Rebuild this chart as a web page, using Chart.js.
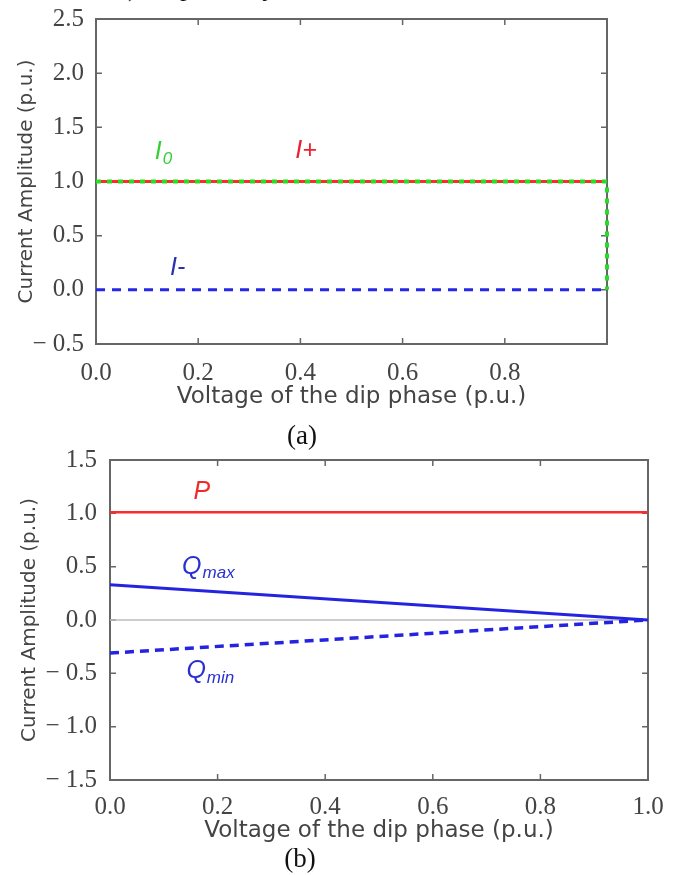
<!DOCTYPE html>
<html>
<head>
<meta charset="utf-8">
<script src="https://cdn.jsdelivr.net/npm/chart.js@4"></script>
<style>
  body { margin: 0; background: #fff; width: 686px; height: 875px; position: relative; overflow: hidden; font-family: "Liberation Serif", serif; }
  canvas { position: absolute; left: 0; }
  #chartA { top: 0; }
  #chartB { top: 440px; }
  .cap { position: absolute; font-size: 27px; color: #111; transform: translate(-50%, -50%); }
  .frag { position: absolute; top: -27px; left: 128px; font-size: 26px; white-space: pre; color: #111; }
</style>
</head>
<body>
<div class="frag">), respectively</div>
<canvas id="chartA" width="686" height="411"></canvas>
<canvas id="chartB" width="686" height="405"></canvas>
<div class="cap" style="left:302px;top:435px">(a)</div>
<div class="cap" style="left:300px;top:858px">(b)</div>
<script>
// (a) currents vs dip voltage
const xA = [0, 1];
const iPlus = [1, 1];
const xZero = [0, 1, 1];
const iZero = [1, 1, 0];
const iMinus = [0, 0];
const yTicksA = [-0.5, 2.5];

// (b) powers vs dip voltage
const xB = [0, 1];
const pVals = [1.01, 1.01];
const qMax = [0.33, 0];
const qMin = [-0.31, 0];
const zeroLine = [0, 0];
const yTicksB = [-1.5, 1.5];

const pts = (xs, ys) => xs.map((x, i) => ({ x: x, y: ys[i] }));

function fmt(v) {
  const s = Math.abs(v).toFixed(1);
  return v < 0 ? "\u2212 " + s : s;
}

// box, inward ticks and in-plot labels
const frame = {
  id: "frame",
  beforeDatasetsDraw(chart) {
    const { ctx, chartArea: a, scales: { x, y } } = chart;
    ctx.save();
    ctx.strokeStyle = "#666";
    ctx.lineWidth = 2;
    ctx.strokeRect(a.left, a.top, a.right - a.left, a.bottom - a.top);
    ctx.lineWidth = 1.5;
    ctx.beginPath();
    x.ticks.forEach((t) => {
      if (t.value <= x.min || t.value >= x.max) return;
      const px = x.getPixelForValue(t.value);
      ctx.moveTo(px, a.top); ctx.lineTo(px, a.top + 6);
      ctx.moveTo(px, a.bottom); ctx.lineTo(px, a.bottom - 6);
    });
    y.ticks.forEach((t) => {
      if (t.value <= y.min || t.value >= y.max) return;
      const py = y.getPixelForValue(t.value);
      ctx.moveTo(a.left, py); ctx.lineTo(a.left + 6, py);
      ctx.moveTo(a.right, py); ctx.lineTo(a.right - 6, py);
    });
    ctx.stroke();
    ctx.restore();
  },
  afterDatasetsDraw(chart, args, opts) {
    const { ctx, scales: { x, y } } = chart;
    ctx.save();
    ctx.textBaseline = "middle";
    (opts.labels || []).forEach((l) => {
      let px = x.getPixelForValue(l.x);
      const py = y.getPixelForValue(l.y);
      ctx.fillStyle = l.color;
      ctx.font = "italic 25px 'Liberation Sans', Arial, sans-serif";
      ctx.fillText(l.text, px, py);
      if (l.sub) {
        px += ctx.measureText(l.text).width + 1;
        ctx.font = "italic 17px 'Liberation Sans', Arial, sans-serif";
        ctx.fillText(l.sub, px, py + 7);
      }
    });
    ctx.restore();
  }
};

const tickFont = { family: "'Liberation Serif', serif", size: 25 };

function makeChart(id, datasets, yRange, cfg) {
  return new Chart(document.getElementById(id), {
    type: "scatter",
    data: { datasets: datasets },
    options: {
      responsive: false,
      animation: false,
      layout: { padding: { top: cfg.top, right: cfg.right, left: 0, bottom: 0 } },
      plugins: {
        legend: { display: false },
        tooltip: { enabled: false },
        frame: { labels: cfg.labels }
      },
      scales: {
        x: {
          type: "linear",
          min: 0,
          max: 1,
          grid: { display: false },
          border: { display: false },
          ticks: {
            stepSize: 0.2,
            padding: cfg.xPad,
            color: "#444",
            font: tickFont,
            maxRotation: 0,
            callback: (v) => (cfg.hideLast && v >= 1 ? "" : v.toFixed(1))
          },
          title: {
            display: true,
            text: "Voltage of the dip phase (p.u.)",
            color: "#444",
            font: { family: "'DejaVu Sans', sans-serif", size: 23 },
            padding: { top: 0, bottom: 0 }
          },
          afterFit: (s) => { s.height = cfg.xH; }
        },
        y: {
          min: yRange[0],
          max: yRange[1],
          grid: { display: false },
          border: { display: false },
          ticks: {
            stepSize: 0.5,
            padding: cfg.yPad,
            color: "#444",
            font: tickFont,
            callback: (v) => fmt(v)
          },
          title: {
            display: true,
            text: "Current Amplitude (p.u.)",
            color: "#444",
            font: { family: "'DejaVu Sans', sans-serif", size: 20 },
            padding: { top: cfg.yTitle, bottom: 0 }
          },
          afterFit: (s) => { s.width = cfg.yW; }
        }
      }
    },
    plugins: [frame]
  });
}

// lower dataset index is drawn on top
makeChart("chartA", [
  { data: pts(xZero, iZero), showLine: true, borderColor: "#22e022", borderWidth: 4, borderDash: [5, 6], pointRadius: 0, clip: false },
  { data: pts(xA, iPlus), showLine: true, borderColor: "#ff2a2a", borderWidth: 3, pointRadius: 0, clip: false },
  { data: pts(xA, iMinus), showLine: true, borderColor: "#2626e6", borderWidth: 3, borderDash: [9, 7], pointRadius: 0, clip: false }
], yTicksA, {
  top: 14, right: 79, xH: 67, yW: 96, xPad: 6, yPad: 4, yTitle: 15, hideLast: true,
  labels: [
    { x: 0.115, y: 1.27, text: "I", sub: "0", color: "#33d033" },
    { x: 0.39, y: 1.28, text: "I+", color: "#ee2030" },
    { x: 0.145, y: 0.2, text: "I-", color: "#2a30b0" }
  ]
});

makeChart("chartB", [
  { data: pts(xB, pVals), showLine: true, borderColor: "#ff2a2a", borderWidth: 2.5, pointRadius: 0, clip: false },
  { data: pts(xB, qMax), showLine: true, borderColor: "#2424e0", borderWidth: 3, pointRadius: 0, clip: false },
  { data: pts(xB, qMin), showLine: true, borderColor: "#2424e0", borderWidth: 3.5, borderDash: [9, 6], pointRadius: 0, clip: false },
  { data: pts(xB, zeroLine), showLine: true, borderColor: "#bbbbbb", borderWidth: 1.5, pointRadius: 0, clip: false }
], yTicksB, {
  top: 20, right: 38, xH: 65, yW: 110, xPad: 4, yPad: 5, yTitle: 18, hideLast: false,
  labels: [
    { x: 0.155, y: 1.2, text: "P", color: "#ee2a2a" },
    { x: 0.134, y: 0.5, text: "Q", sub: "max", color: "#2a30d0" },
    { x: 0.142, y: -0.48, text: "Q", sub: "min", color: "#2a30d0" }
  ]
});
</script>
</body>
</html>
